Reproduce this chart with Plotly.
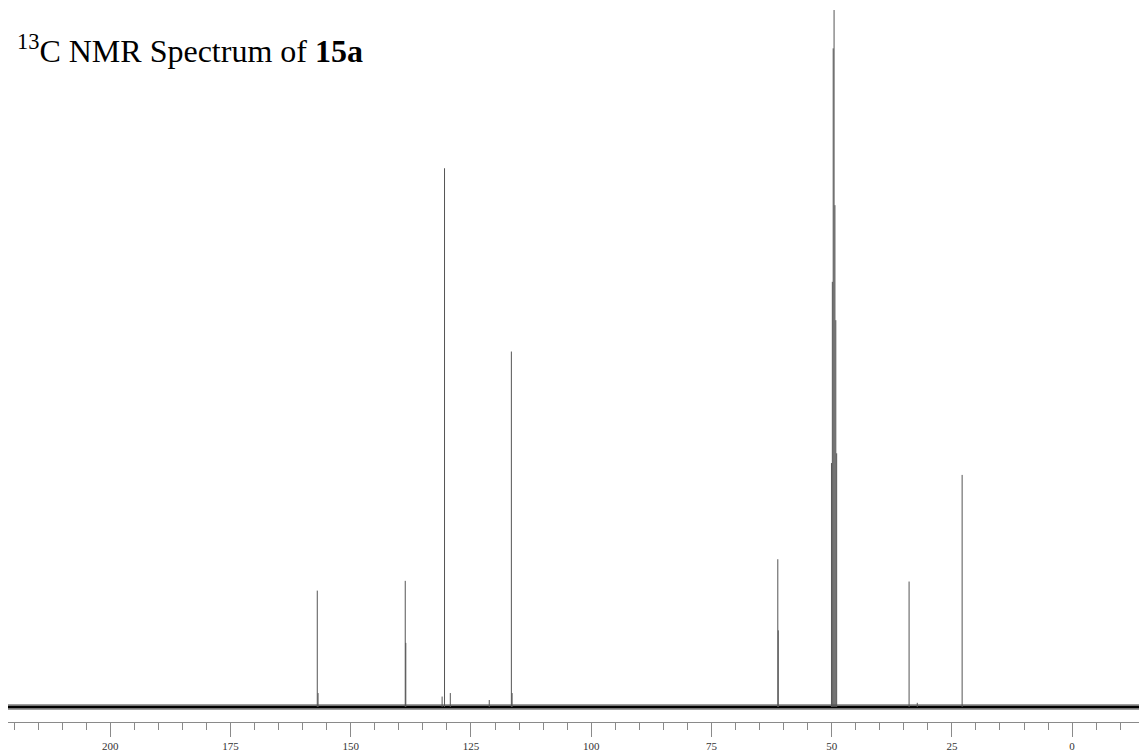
import plotly.graph_objects as go

# ---- data ----
spectral_window = [221.27, -15.57]          # ppm, left to right
peak_ppm = [156.96, 156.80, 138.67, 138.55, 131.0, 130.5, 129.3, 121.2,
            116.6, 116.45, 61.1, 61.2,
            50.04, 49.86, 49.68, 49.50, 49.32, 49.14, 48.96,
            33.9, 32.2, 22.87]
peak_int = [16.7, 2.0, 18.1, 9.2, 1.5, 77.3, 2.0, 1.0,
            51.0, 2.0, 11.0, 21.2,
            35.0, 61.0, 94.5, 100.0, 72.0, 55.5, 36.4,
            18.0, 0.6, 33.3]
major_ticks = [200, 175, 150, 125, 100, 75, 50, 25, 0]
title_html = "<sup>13</sup>C NMR Spectrum of <b>15a</b>"

# ---- build stick trace ----
sx, sy = [], []
for p, h in zip(peak_ppm, peak_int):
    sx += [p, p, None]
    sy += [0, h, None]

fig = go.Figure()
# noise band approximated by a thick baseline
fig.add_trace(go.Scatter(x=spectral_window, y=[0, 0], mode="lines",
                         line=dict(color="rgba(40,40,40,0.45)", width=6),
                         hoverinfo="skip", showlegend=False))
fig.add_trace(go.Scatter(x=spectral_window, y=[0, 0], mode="lines",
                         line=dict(color="black", width=2.5),
                         hoverinfo="skip", showlegend=False))
fig.add_trace(go.Scatter(x=sx, y=sy, mode="lines",
                         line=dict(color="#555555", width=1),
                         hoverinfo="skip", showlegend=False))

W, H = 1147, 756
ml, mr, mt, mb = 0, 8, 0, 42
fig.update_layout(
    width=W, height=H,
    margin=dict(l=ml, r=mr, t=mt, b=mb),
    paper_bgcolor="white", plot_bgcolor="white",
    showlegend=False,
    xaxis=dict(range=spectral_window, showgrid=False, zeroline=False,
               showline=True, linecolor="#8a8a8a", linewidth=1,
               tickmode="array", tickvals=major_ticks,
               ticks="outside", ticklen=14, tickcolor="#8a8a8a", tickwidth=1,
               tickfont=dict(family="Liberation Serif", size=11, color="#333"),
               minor=dict(dtick=5, tick0=0, ticks="outside", ticklen=7,
                          tickcolor="#8a8a8a", tickwidth=1, showgrid=False)),
    yaxis=dict(range=[-2.152, 100.29], visible=False, showgrid=False,
               zeroline=False),
)
plot_h = H - mt - mb
fig.add_annotation(text=title_html, xref="paper", yref="paper",
                   x=7 / (W - ml - mr), y=(plot_h - 41) / plot_h,
                   xanchor="left", yanchor="middle", showarrow=False,
                   font=dict(family="Liberation Serif", size=32, color="black"))

fig.write_html("out.html")
